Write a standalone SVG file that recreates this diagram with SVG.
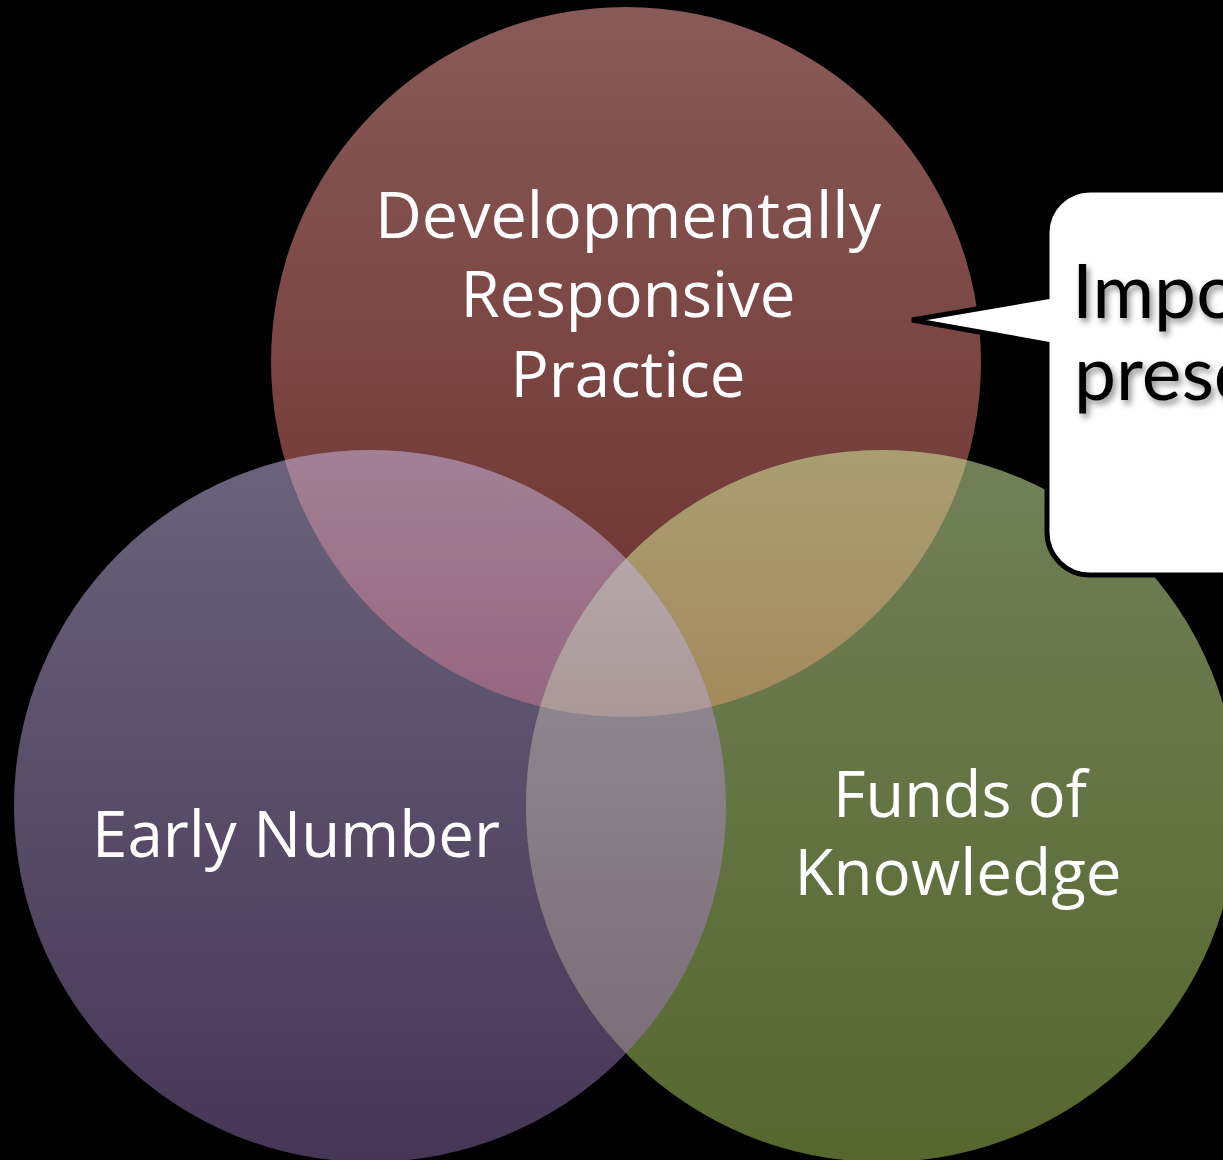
<svg xmlns="http://www.w3.org/2000/svg" width="1223" height="1160" viewBox="0 0 1223 1160">
  <style>
    .label { font-family: "Open Sans", "Noto Sans", sans-serif; font-size: 64px; fill: #ffffff; text-anchor: middle; }
    .callout-text { font-family: "Lato", "Open Sans", sans-serif; font-size: 75px; fill: #000000; }
  </style>
  <defs>
    <linearGradient id="gTop" gradientUnits="userSpaceOnUse" x1="0" y1="7" x2="0" y2="717">
      <stop offset="0" stop-color="#885a58"/>
      <stop offset="1" stop-color="#6c302c"/>
    </linearGradient>
    <linearGradient id="gLeft" gradientUnits="userSpaceOnUse" x1="0" y1="450" x2="0" y2="1162">
      <stop offset="0" stop-color="#6a637b"/>
      <stop offset="1" stop-color="#463656"/>
    </linearGradient>
    <linearGradient id="gRight" gradientUnits="userSpaceOnUse" x1="0" y1="450" x2="0" y2="1162">
      <stop offset="0" stop-color="#718057"/>
      <stop offset="1" stop-color="#56672e"/>
    </linearGradient>
    <linearGradient id="gTL" gradientUnits="userSpaceOnUse" x1="0" y1="451" x2="0" y2="717">
      <stop offset="0" stop-color="#a28094"/>
      <stop offset="1" stop-color="#96667f"/>
    </linearGradient>
    <linearGradient id="gTR" gradientUnits="userSpaceOnUse" x1="0" y1="451" x2="0" y2="717">
      <stop offset="0" stop-color="#aa9e71"/>
      <stop offset="1" stop-color="#a38a5c"/>
    </linearGradient>
    <linearGradient id="gLR" gradientUnits="userSpaceOnUse" x1="0" y1="560" x2="0" y2="1055">
      <stop offset="0" stop-color="#948f96"/>
      <stop offset="1" stop-color="#7b6e78"/>
    </linearGradient>
    <linearGradient id="gAll" gradientUnits="userSpaceOnUse" x1="0" y1="560" x2="0" y2="717">
      <stop offset="0" stop-color="#b4a6a9"/>
      <stop offset="1" stop-color="#ab9898"/>
    </linearGradient>
    <clipPath id="clipTop"><circle cx="626" cy="362" r="355"/></clipPath>
    <clipPath id="clipLeft"><circle cx="370" cy="806" r="356"/></clipPath>
    <filter id="softShadow" x="-10%" y="-10%" width="130%" height="140%">
      <feDropShadow dx="3" dy="4" stdDeviation="3" flood-color="#000000" flood-opacity="0.45"/>
    </filter>
  </defs>

  <rect width="1223" height="1160" fill="#000000"/>

  <!-- Venn circles -->
  <g id="circle-top"><circle cx="626" cy="362" r="355" fill="url(#gTop)"/></g>
  <g id="circle-left"><circle cx="370" cy="806" r="356" fill="url(#gLeft)"/></g>
  <g id="circle-right"><circle cx="882" cy="806" r="356" fill="url(#gRight)"/></g>

  <!-- overlap regions -->
  <g id="overlaps">
    <g clip-path="url(#clipTop)">
      <circle cx="370" cy="806" r="356" fill="url(#gTL)"/>
      <circle cx="882" cy="806" r="356" fill="url(#gTR)"/>
    </g>
    <g clip-path="url(#clipLeft)">
      <circle cx="882" cy="806" r="356" fill="url(#gLR)"/>
      <g clip-path="url(#clipTop)">
        <circle cx="882" cy="806" r="356" fill="url(#gAll)"/>
      </g>
    </g>
  </g>

  <!-- circle labels -->
  <g id="label-top">
    <text class="label" x="628" y="238" textLength="506" lengthAdjust="spacingAndGlyphs">Developmentally</text>
    <text class="label" x="628" y="317" textLength="335" lengthAdjust="spacingAndGlyphs">Responsive</text>
    <text class="label" x="628" y="397" textLength="235" lengthAdjust="spacingAndGlyphs">Practice</text>
  </g>
  <g id="label-left">
    <text class="label" x="296" y="857" textLength="408" lengthAdjust="spacingAndGlyphs">Early Number</text>
  </g>
  <g id="label-right">
    <text class="label" x="960" y="817" textLength="254" lengthAdjust="spacingAndGlyphs">Funds of</text>
    <text class="label" x="958" y="895" textLength="327" lengthAdjust="spacingAndGlyphs">Knowledge</text>
  </g>

  <!-- speech bubble -->
  <g id="callout">
    <path d="M 1090 190 H 1240 V 575 H 1090 A 43 43 0 0 1 1047 532 V 344 L 912 320 L 1047 297 V 233 A 43 43 0 0 1 1090 190 Z" fill="#ffffff" stroke="#000000" stroke-width="5" stroke-linejoin="miter"/>
    <text class="callout-text" x="1072" y="318" filter="url(#softShadow)">Impo</text>
    <text class="callout-text" x="1074" y="400" filter="url(#softShadow)">presc</text>
  </g>
</svg>
